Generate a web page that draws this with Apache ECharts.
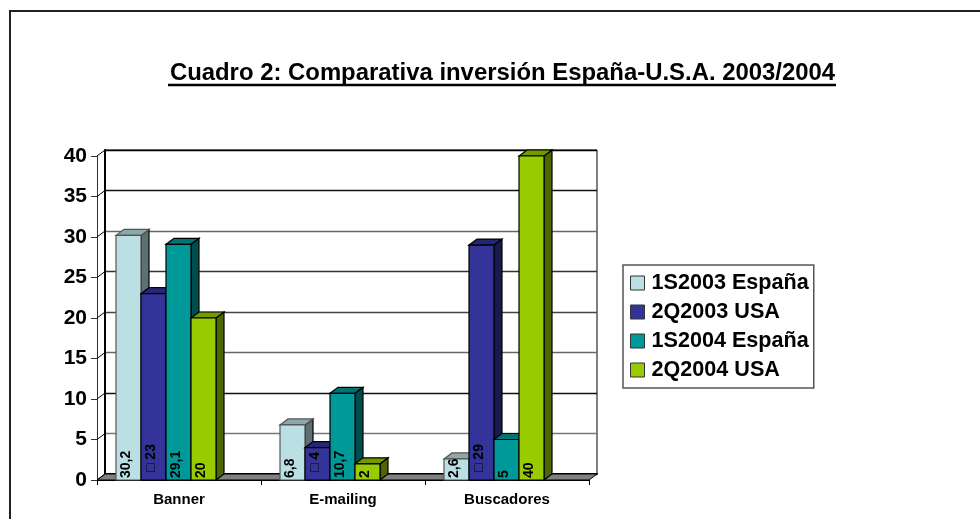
<!DOCTYPE html>
<html>
<head>
<meta charset="utf-8">
<title>Cuadro 2</title>
<script src="https://cdn.jsdelivr.net/npm/echarts@6/dist/echarts.min.js"></script>
<style>
html, body { margin: 0; padding: 0; background: #fff; }
#main { width: 980px; height: 519px; }
</style>
</head>
<body>
<div id="main"></div>
<script>
const categories = ['Banner', 'E-mailing', 'Buscadores']
const seriesNames = ['1S2003 España', '2Q2003 USA', '1S2004 España', '2Q2004 USA']
const spain2003 = [30.2, 6.8, 2.6]
const usa2003 = [23, 4, 29]
const spain2004 = [29.1, 10.7, 5]
const usa2004 = [20, 2, 40]
const yTicks = [0, 5, 10, 15, 20, 25, 30, 35, 40]

const FONT = '"Liberation Sans", Arial, sans-serif'
const DEPTH_X = 8
const DEPTH_Y = 6
const BAR_W = 25
const GROUP_SHIFT = -13

// front, top, side, outline
const shades = [
  ['#BBE0E3', '#8CA8AA', '#5E7071', '#555555'],
  ['#333399', '#262673', '#1A1A4D', '#000000'],
  ['#009999', '#007373', '#004D4D', '#000000'],
  ['#99CC00', '#739900', '#4D6600', '#000000'],
]
const labelPrefix = ['', '□ ', '', '']
const labelLift = [2, 8, 2, 2]

const chart = echarts.init(document.getElementById('main'), null, { renderer: 'canvas' })

// one 3d column: side and top first, then the front face and its rotated label
function renderBar (params, api) {
  const s = params.seriesIndex - 1
  const c = shades[s]
  const idx = api.value(0)
  const val = api.value(1)
  const top = api.coord([idx, val])
  const base = api.coord([idx, 0])
  const x0 = top[0] + GROUP_SHIFT + (s - 2) * BAR_W
  const x1 = x0 + BAR_W
  return {
    type: 'group',
    children: [
      {
        type: 'polygon',
        shape: { points: [[x1, top[1]], [x1 + DEPTH_X, top[1] - DEPTH_Y], [x1 + DEPTH_X, base[1] - DEPTH_Y], [x1, base[1]]] },
        style: { fill: c[2], stroke: '#000', lineWidth: 1.2 },
      },
      {
        type: 'polygon',
        shape: { points: [[x0, top[1]], [x0 + DEPTH_X, top[1] - DEPTH_Y], [x1 + DEPTH_X, top[1] - DEPTH_Y], [x1, top[1]]] },
        style: { fill: c[1], stroke: c[3], lineWidth: 1.2 },
      },
      {
        type: 'rect',
        shape: { x: x0, y: top[1], width: BAR_W, height: base[1] - top[1] },
        style: { fill: c[0], stroke: c[3], lineWidth: 1.2 },
      },
      {
        type: 'text',
        x: x0 + BAR_W / 2 - 2,
        y: base[1] - labelLift[s],
        rotation: Math.PI / 2,
        style: {
          text: labelPrefix[s] + String(val).replace('.', ','),
          font: 'bold 14px ' + FONT,
          fill: '#000',
          align: 'left',
          verticalAlign: 'middle',
        },
      },
    ],
  }
}

// side wall ticks and the grey floor
function renderWall (params, api) {
  const val = api.value(0)
  const p = api.coord([0, val])
  const left = p[0] - api.size([1, 0])[0] / 2
  const children = [{
    type: 'line',
    shape: { x1: left, y1: p[1], x2: left + DEPTH_X, y2: p[1] - DEPTH_Y },
    style: { stroke: '#000', lineWidth: 1 },
  }]
  if (val === 0) {
    const width = api.size([1, 0])[0] * categories.length
    children.unshift({
      type: 'polygon',
      shape: { points: [[left, p[1]], [left + DEPTH_X, p[1] - DEPTH_Y], [left + width + DEPTH_X, p[1] - DEPTH_Y], [left + width, p[1]]] },
      style: { fill: '#808080', stroke: '#000', lineWidth: 1 },
    })
  }
  return { type: 'group', children }
}

function barSeries (values, i) {
  return {
    name: seriesNames[i],
    type: 'custom',
    xAxisIndex: 0,
    yAxisIndex: 0,
    clip: false,
    itemStyle: { color: shades[i][0] },
    encode: { x: 0, y: 1 },
    data: values.map((v, k) => [k, v]),
    renderItem: renderBar,
  }
}

chart.setOption({
  animation: false,
  backgroundColor: '#fff',
  textStyle: { fontFamily: FONT },
  legend: {
    orient: 'vertical',
    left: 623,
    top: 265,
    padding: [7, 5, 7, 7],
    itemGap: 7,
    itemWidth: 14,
    itemHeight: 14,
    itemStyle: { borderColor: '#333', borderWidth: 1 },
    icon: 'rect',
    borderColor: '#555',
    borderWidth: 1.5,
    selectedMode: false,
    textStyle: { fontSize: 21.6, fontWeight: 'bold', color: '#000', fontFamily: FONT, lineHeight: 20, padding: [0, 0, 0, 2] },
    data: seriesNames,
  },
  grid: [
    { left: 97, top: 156, width: 492, height: 324, show: false },
    { left: 105, top: 150, width: 492, height: 324, show: true, borderColor: '#000', borderWidth: 1, backgroundColor: 'transparent' },
  ],
  xAxis: [
    {
      type: 'category',
      gridIndex: 0,
      data: categories,
      axisLine: { show: true, lineStyle: { color: '#000', width: 1 } },
      axisTick: { show: true, alignWithLabel: false, length: 5, lineStyle: { color: '#000' } },
      axisLabel: { fontSize: 15, fontWeight: 'bold', color: '#000', fontFamily: FONT, margin: 12 },
      splitLine: { show: false },
    },
    {
      type: 'category',
      gridIndex: 1,
      position: 'top',
      data: categories,
      axisLine: { show: true, lineStyle: { color: '#000', width: 2 } },
      axisTick: { show: false },
      axisLabel: { show: false },
    },
  ],
  yAxis: [
    {
      type: 'value',
      gridIndex: 0,
      min: 0,
      max: 40,
      interval: 5,
      axisLine: { show: true, lineStyle: { color: '#333', width: 1 } },
      axisTick: { show: true, length: 6, lineStyle: { color: '#333' } },
      axisLabel: { fontSize: 21, fontWeight: 'bold', color: '#000', fontFamily: FONT, margin: 10 },
      splitLine: { show: false },
    },
    {
      type: 'value',
      gridIndex: 1,
      min: 0,
      max: 40,
      interval: 5,
      axisLine: { show: true, lineStyle: { color: '#000', width: 2 } },
      axisTick: { show: false },
      axisLabel: { show: false },
      splitLine: {
        show: true,
        lineStyle: { color: ['#000', '#777', '#111', '#666', '#444', '#333', '#666', '#111', '#000'], width: 1.4 },
      },
    },
  ],
  graphic: [
    {
      type: 'polyline',
      shape: { points: [[10, 520], [10, 11], [980, 11]] },
      style: { stroke: '#222', lineWidth: 2, fill: null },
      silent: true,
    },
    {
      type: 'text',
      x: 502.5,
      y: 73,
      style: { text: 'Cuadro 2: Comparativa inversión España-U.S.A. 2003/2004', font: 'bold 23.9px ' + FONT, fill: '#000', align: 'center', verticalAlign: 'middle' },
      silent: true,
    },
    {
      type: 'line',
      shape: { x1: 168, y1: 85, x2: 836, y2: 85 },
      style: { stroke: '#000', lineWidth: 2.5 },
      silent: true,
    },
  ],
  series: [
    {
      type: 'custom',
      xAxisIndex: 0,
      yAxisIndex: 0,
      clip: false,
      encode: { y: 0 },
      data: yTicks.map(v => [v]),
      renderItem: renderWall,
    },
    barSeries(spain2003, 0),
    barSeries(usa2003, 1),
    barSeries(spain2004, 2),
    barSeries(usa2004, 3),
  ],
})
</script>
</body>
</html>
